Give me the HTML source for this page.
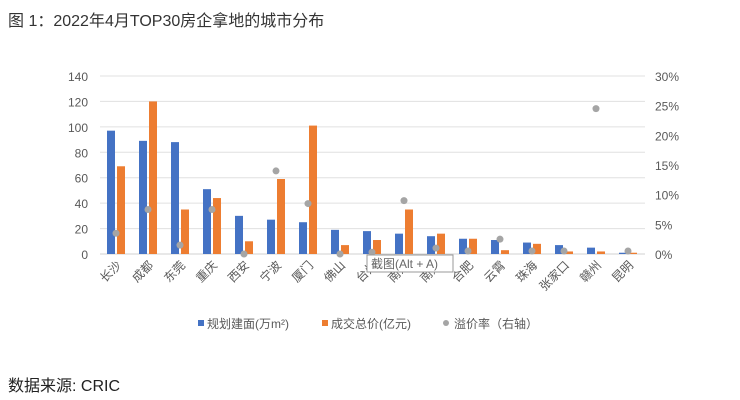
<!DOCTYPE html>
<html><head><meta charset="utf-8"><style>
body{margin:0;background:#fff;width:740px;height:400px;overflow:hidden}
svg{display:block;font-family:"Liberation Sans","Noto Sans CJK SC",sans-serif}
</style></head><body>
<svg id="s" width="740" height="400" xmlns="http://www.w3.org/2000/svg">
<text x="8" y="26" font-size="16" fill="#333">图 1：2022年4月TOP30房企拿地的城市分布</text>
<g id="g"></g>
<g font-size="12" fill="#444">
<rect x="198" y="320" width="6" height="6" fill="#4472c4"/><text x="207" y="328" fill="#595959">规划建面(万m²)</text>
<rect x="322" y="320" width="6" height="6" fill="#ed7d31"/><text x="331" y="328" fill="#595959">成交总价(亿元)</text>
<circle cx="446" cy="323" r="3" fill="#a5a5a5"/><text x="454" y="328" fill="#595959">溢价率（右轴）</text>
</g>
<text x="8" y="391" font-size="16" fill="#222">数据来源: CRIC</text>
</svg>
<script>
var d=[["长沙",97,69,3.5],["成都",89,120,7.5],["东莞",88,35,1.5],["重庆",51,44,7.5],["西安",30,10,0],["宁波",27,59,14],["厦门",25,101,8.5],["佛山",19,7,0],["台州",18,11,0.3],["南京",16,35,9],["南通",14,16,1],["合肥",12,12,0.5],["云霄",11,3,2.5],["珠海",9,8,0.5],["张家口",7,2,0.5],["赣州",5,2,24.5],["昆明",1,1,0.5]];
var s="",y0=254,k=178/140;
for(var i=0;i<=7;i++){var y=y0-i*20*k;s+='<line x1="100" x2="645" y1="'+y+'" y2="'+y+'" stroke="'+(i?'#e0e0e0':'#d0d0d0')+'"/>';
s+='<text x="88" y="'+(y+5)+'" font-size="12" fill="#595959" text-anchor="end">'+(i*20)+'</text>';}
for(var j=0;j<=6;j++){var y2=y0-j*178/6;s+='<text x="655" y="'+(y2+5)+'" font-size="12" fill="#595959">'+(j*5)+'%</text>';}
d.forEach(function(r,i){var c=116+i*32;
s+='<rect x="'+(c-9)+'" y="'+(y0-r[1]*k)+'" width="8" height="'+(r[1]*k)+'" fill="#4472c4"/>';
s+='<rect x="'+(c+1)+'" y="'+(y0-r[2]*k)+'" width="8" height="'+(r[2]*k)+'" fill="#ed7d31"/>';
s+='<circle cx="'+c+'" cy="'+(y0-r[3]*178/30)+'" r="3.5" fill="#a5a5a5"/>';
s+='<text transform="translate('+(c+6)+',266) rotate(-45)" font-size="12" fill="#595959" text-anchor="end">'+r[0]+'</text>';});
s+='<rect x="367" y="255" width="86" height="17" fill="#fff" stroke="#999"/><text x="371" y="268" font-size="12" fill="#666">截图(Alt + A)</text>';
document.getElementById("g").innerHTML=s;
</script>
</body></html>
